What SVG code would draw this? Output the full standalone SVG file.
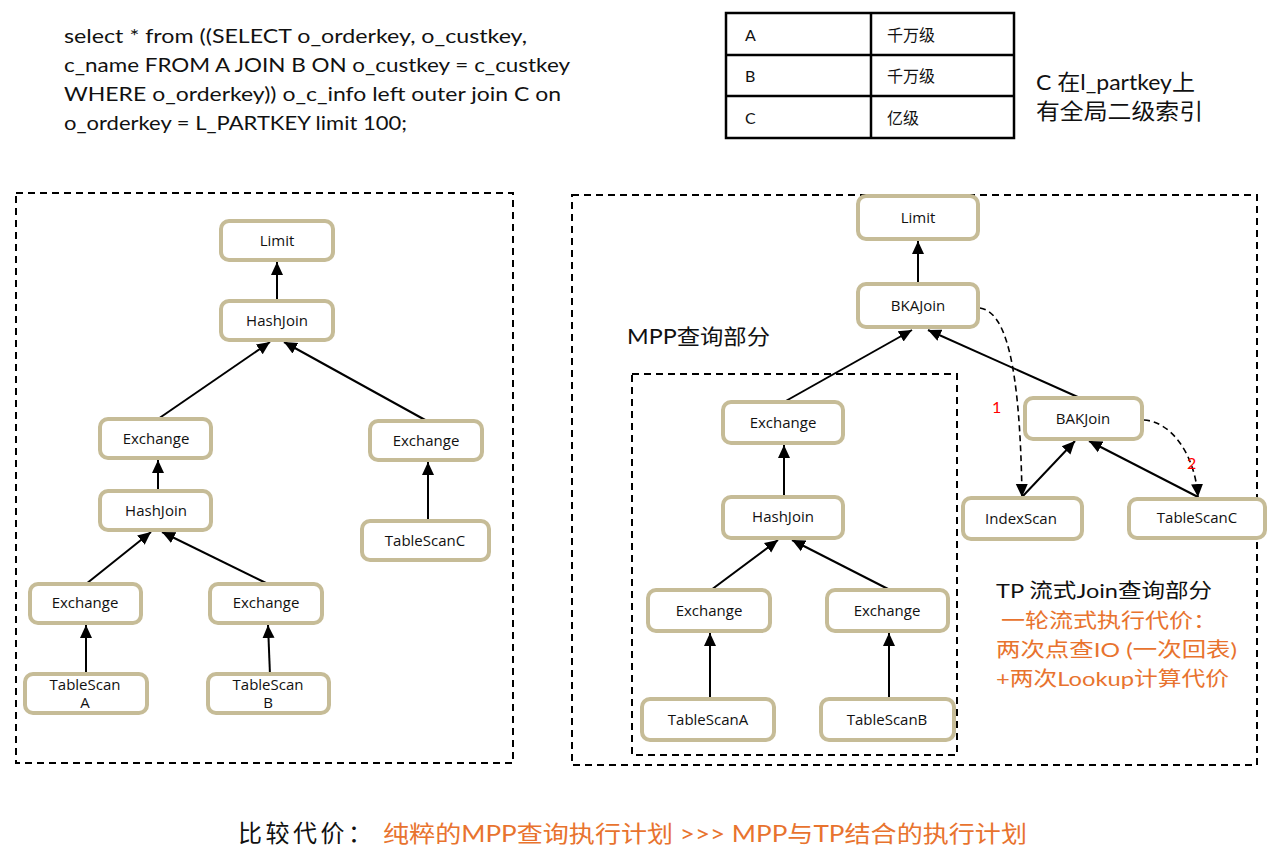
<svg xmlns="http://www.w3.org/2000/svg" width="1268" height="860" viewBox="0 0 1268 860">
<style>
.node rect{fill:#fff;stroke:#C6BC97;stroke-width:4}
.nt{font-family:"Open Sans","Liberation Sans",sans-serif;font-size:15px;fill:#111;text-anchor:middle}
.nr{font-family:"Open Sans","Liberation Sans",sans-serif;font-size:15px;fill:#111;text-anchor:middle}
.frame{fill:none;stroke:#000;stroke-width:2;stroke-dasharray:7,5}
.edge{stroke:#000;stroke-width:2;fill:none}
.dash{stroke:#000;stroke-width:1.6;fill:none;stroke-dasharray:6,4}
.sql{font-family:"Lato","Open Sans","Liberation Sans",sans-serif;font-size:20px;fill:#111}
.cjk{font-family:"Lato","Noto Sans CJK SC",sans-serif}
.or{fill:#E8732E}
.tb{font-family:"Lato","Noto Sans CJK SC",sans-serif;font-size:16px;fill:#111}
</style>
<defs>
<marker id="ah" markerUnits="userSpaceOnUse" markerWidth="14" markerHeight="14" viewBox="0 0 14 14" refX="13" refY="7" orient="auto">
<path d="M0,1 L13,7 L0,13 Z" fill="#000"/>
</marker>
</defs>

<!-- SQL text -->
<g id="sql">
<text class="sql" x="64" y="43" textLength="463" lengthAdjust="spacingAndGlyphs">select * from ((SELECT o_orderkey, o_custkey,</text>
<text class="sql" x="64" y="72" textLength="506" lengthAdjust="spacingAndGlyphs">c_name FROM A JOIN B ON o_custkey = c_custkey</text>
<text class="sql" x="64" y="101" textLength="497" lengthAdjust="spacingAndGlyphs">WHERE o_orderkey)) o_c_info left outer join C on</text>
<text class="sql" x="64" y="130" textLength="343" lengthAdjust="spacingAndGlyphs">o_orderkey = L_PARTKEY limit 100;</text>
</g>

<!-- table -->
<g id="table">
<rect x="726" y="13" width="288" height="125" fill="#fff" stroke="#000" stroke-width="2.5"/>
<line x1="726" y1="55" x2="1014" y2="55" stroke="#000" stroke-width="2.5"/>
<line x1="726" y1="96" x2="1014" y2="96" stroke="#000" stroke-width="2.5"/>
<line x1="871" y1="13" x2="871" y2="138" stroke="#000" stroke-width="2.5"/>
<text class="tb" x="745" y="41">A</text>
<text class="tb" x="887" y="41">千万级</text>
<text class="tb" x="745" y="82">B</text>
<text class="tb" x="887" y="82">千万级</text>
<text class="tb" x="745" y="124">C</text>
<text class="tb" x="887" y="124">亿级</text>
</g>
<g id="note">
<text class="cjk" x="1036" y="90" font-size="22" fill="#111" textLength="159" lengthAdjust="spacingAndGlyphs">C 在l_partkey上</text>
<text class="cjk" x="1036" y="119" font-size="22" fill="#111" textLength="167" lengthAdjust="spacingAndGlyphs">有全局二级索引</text>
</g>

<!-- frames -->
<rect class="frame" x="16" y="193" width="497" height="570"/>
<rect class="frame" x="572" y="195" width="685" height="570"/>
<rect class="frame" x="632" y="374" width="325" height="381"/>

<!-- connectors -->
<g id="connectors">
<line class="edge" x1="277" y1="301" x2="277" y2="262" marker-end="url(#ah)"/>
<line class="edge" x1="158" y1="419" x2="270" y2="342" marker-end="url(#ah)"/>
<line class="edge" x1="427" y1="421" x2="284" y2="342" marker-end="url(#ah)"/>
<line class="edge" x1="158" y1="491" x2="158" y2="460" marker-end="url(#ah)"/>
<line class="edge" x1="428" y1="521" x2="428" y2="462" marker-end="url(#ah)"/>
<line class="edge" x1="86" y1="584" x2="151" y2="532" marker-end="url(#ah)"/>
<line class="edge" x1="268" y1="584" x2="162" y2="532" marker-end="url(#ah)"/>
<line class="edge" x1="86" y1="674" x2="86" y2="625" marker-end="url(#ah)"/>
<line class="edge" x1="270" y1="675" x2="268" y2="625" marker-end="url(#ah)"/>

<line class="edge" x1="918" y1="284" x2="918" y2="241" marker-end="url(#ah)"/>
<line class="edge" x1="784" y1="402" x2="912" y2="330" marker-end="url(#ah)"/>
<line class="edge" x1="1080" y1="398" x2="928" y2="330" marker-end="url(#ah)"/>
<line class="edge" x1="1022" y1="497" x2="1075" y2="441" marker-end="url(#ah)"/>
<line class="edge" x1="1198" y1="497" x2="1089" y2="441" marker-end="url(#ah)"/>
<path class="dash" d="M980,308 C1005,312 1020,360 1022,497" marker-end="url(#ah)"/>
<path class="dash" d="M1144,420 C1172,422 1195,455 1198,497" marker-end="url(#ah)"/>
<line class="edge" x1="784" y1="497" x2="784" y2="445" marker-end="url(#ah)"/>
<line class="edge" x1="711" y1="590" x2="778" y2="540" marker-end="url(#ah)"/>
<line class="edge" x1="890" y1="590" x2="792" y2="540" marker-end="url(#ah)"/>
<line class="edge" x1="710" y1="699" x2="710" y2="633" marker-end="url(#ah)"/>
<line class="edge" x1="889" y1="699" x2="889" y2="633" marker-end="url(#ah)"/>
</g>

<!-- left nodes -->
<g id="L_limit" class="node"><rect x="221" y="221" width="112" height="39" rx="8"/><text class="nt" x="277" y="246">Limit</text></g>
<g id="L_hashjoin" class="node"><rect x="221" y="301" width="112" height="39" rx="8"/><text class="nt" x="277" y="326">HashJoin</text></g>
<g id="L_exch1" class="node"><rect x="100" y="419" width="111" height="39" rx="8"/><text class="nt" x="156" y="444">Exchange</text></g>
<g id="L_exch2" class="node"><rect x="370" y="421" width="112" height="39" rx="8"/><text class="nt" x="426" y="446">Exchange</text></g>
<g id="L_hashjoin2" class="node"><rect x="100" y="491" width="111" height="39" rx="8"/><text class="nt" x="156" y="516">HashJoin</text></g>
<g id="L_tscanC" class="node"><rect x="362" y="521" width="127" height="39" rx="8"/><text class="nt" x="425" y="546">TableScanC</text></g>
<g id="L_exchA" class="node"><rect x="30" y="584" width="111" height="39" rx="8"/><text class="nt" x="85" y="608">Exchange</text></g>
<g id="L_exchB" class="node"><rect x="210" y="584" width="112" height="39" rx="8"/><text class="nt" x="266" y="608">Exchange</text></g>
<g id="L_tscanA" class="node"><rect x="25" y="674" width="122" height="39" rx="8"/><text class="nt" x="85" y="690">TableScan</text><text class="nt" x="85" y="708">A</text></g>
<g id="L_tscanB" class="node"><rect x="208" y="674" width="121" height="39" rx="8"/><text class="nt" x="268" y="690">TableScan</text><text class="nt" x="268" y="708">B</text></g>

<!-- right nodes -->
<g id="R_limit" class="node"><rect x="858" y="196" width="120" height="43" rx="8"/><text class="nr" x="918" y="223">Limit</text></g>
<g id="R_bkajoin" class="node"><rect x="858" y="284" width="120" height="43" rx="8"/><text class="nr" x="918" y="311">BKAJoin</text></g>
<g id="R_exch" class="node"><rect x="723" y="402" width="120" height="41" rx="8"/><text class="nr" x="783" y="428">Exchange</text></g>
<g id="R_bakjoin" class="node"><rect x="1025" y="398" width="117" height="41" rx="8"/><text class="nr" x="1083" y="424">BAKJoin</text></g>
<g id="R_indexscan" class="node"><rect x="963" y="498" width="119" height="41" rx="8"/><text class="nr" x="1021" y="524">IndexScan</text></g>
<g id="R_tscanC" class="node"><rect x="1129" y="499" width="136" height="39" rx="8"/><text class="nr" x="1197" y="523">TableScanC</text></g>
<g id="R_hashjoin" class="node"><rect x="723" y="497" width="120" height="41" rx="8"/><text class="nr" x="783" y="522">HashJoin</text></g>
<g id="R_exchA" class="node"><rect x="648" y="590" width="122" height="41" rx="8"/><text class="nr" x="709" y="616">Exchange</text></g>
<g id="R_exchB" class="node"><rect x="827" y="590" width="121" height="41" rx="8"/><text class="nr" x="887" y="616">Exchange</text></g>
<g id="R_tscanA" class="node"><rect x="642" y="699" width="132" height="41" rx="8"/><text class="nr" x="708" y="725">TableScanA</text></g>
<g id="R_tscanB" class="node"><rect x="821" y="699" width="133" height="41" rx="8"/><text class="nr" x="887" y="725">TableScanB</text></g>

<!-- labels -->
<text x="992" y="413" font-family="Lato,'Liberation Sans',sans-serif" font-size="16" fill="#FF0000">1</text>
<text x="1187" y="469" font-family="Lato,'Liberation Sans',sans-serif" font-size="16" fill="#FF0000">2</text>
<text class="cjk" x="627" y="344" font-size="21" fill="#111" textLength="143" lengthAdjust="spacingAndGlyphs">MPP查询部分</text>
<text class="cjk" x="996" y="598" font-size="20" fill="#111" textLength="216" lengthAdjust="spacingAndGlyphs">TP 流式Join查询部分</text>
<text class="cjk or" x="1001" y="628" font-size="20" textLength="216" lengthAdjust="spacingAndGlyphs">一轮流式执行代价：</text>
<text class="cjk or" x="996" y="657" font-size="20" textLength="241" lengthAdjust="spacingAndGlyphs">两次点查IO (一次回表)</text>
<text class="cjk or" x="996" y="686" font-size="20" textLength="233" lengthAdjust="spacingAndGlyphs">+两次Lookup计算代价</text>

<text class="cjk" x="238" y="842" font-size="24" fill="#111" textLength="134" lengthAdjust="spacing">比较代价：</text>
<text class="cjk or" x="383" y="842" font-size="23" textLength="644" lengthAdjust="spacingAndGlyphs">纯粹的MPP查询执行计划 &gt;&gt;&gt; MPP与TP结合的执行计划</text>
</svg>
